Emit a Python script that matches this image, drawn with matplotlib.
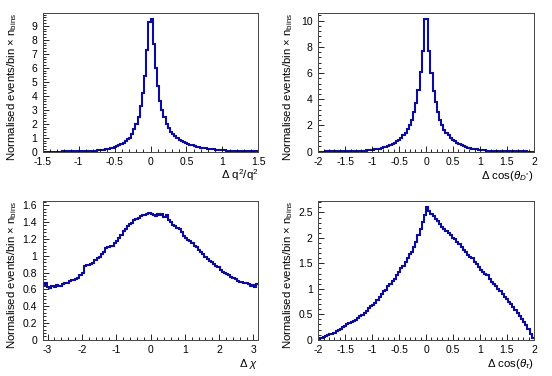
import numpy as np
import matplotlib
matplotlib.use("Agg")
import matplotlib.pyplot as plt
from matplotlib.ticker import MultipleLocator, AutoMinorLocator, FuncFormatter

plt.rcParams['font.family'] = ['Liberation Sans', 'DejaVu Sans']
plt.rcParams['mathtext.fontset'] = 'custom'
plt.rcParams['mathtext.rm'] = 'Liberation Sans'
plt.rcParams['mathtext.it'] = 'Liberation Sans:italic'
plt.rcParams['axes.unicode_minus'] = False

# histogram contents, 100 bins each
q2_vals = [0.010, 0.010, 0.011, 0.011, 0.012, 0.012, 0.013, 0.014, 0.015, 0.016,
           0.017, 0.018, 0.020, 0.021, 0.023, 0.025, 0.027, 0.029, 0.031, 0.034,
           0.045, 0.050, 0.057, 0.066, 0.077, 0.090, 0.105, 0.12, 0.14, 0.17,
           0.20, 0.24, 0.28, 0.33, 0.39, 0.46, 0.55, 0.65, 0.76, 0.88,
           1.0, 1.25, 1.6, 2.0, 2.5, 3.3, 4.2, 5.4, 7.25, 9.3,
           9.5, 7.7, 6.0, 4.7, 3.6, 3.0, 2.45, 2.0, 1.7, 1.42,
           1.25, 1.1, 0.98, 0.87, 0.78, 0.70, 0.63, 0.56, 0.50, 0.45,
           0.41, 0.37, 0.33, 0.30, 0.27, 0.245, 0.22, 0.20, 0.18, 0.16,
           0.145, 0.13, 0.115, 0.10, 0.09, 0.08, 0.07, 0.062, 0.055, 0.048,
           0.042, 0.037, 0.033, 0.030, 0.027, 0.024, 0.022, 0.020, 0.018, 0.016]

cosd_vals = [0.014, 0.015, 0.016, 0.017, 0.018, 0.019, 0.020, 0.022, 0.024, 0.026,
             0.028, 0.030, 0.033, 0.036, 0.040, 0.044, 0.049, 0.055, 0.062, 0.070,
             0.080, 0.092, 0.105, 0.12, 0.135, 0.155, 0.18, 0.21, 0.24, 0.28,
             0.33, 0.38, 0.44, 0.51, 0.59, 0.69, 0.80, 0.93, 1.08, 1.25,
             1.45, 1.70, 2.0, 2.45, 3.0, 3.7, 4.7, 6.1, 7.7, 10.15,
             10.1, 7.7, 6.0, 4.65, 3.8, 3.0, 2.4, 2.0, 1.68, 1.45,
             1.25, 1.07, 0.92, 0.80, 0.68, 0.58, 0.50, 0.43, 0.37, 0.32,
             0.28, 0.24, 0.20, 0.175, 0.15, 0.13, 0.115, 0.10, 0.09, 0.078,
             0.069, 0.061, 0.054, 0.048, 0.043, 0.039, 0.035, 0.032, 0.029, 0.027,
             0.025, 0.023, 0.021, 0.020, 0.019, 0.018, 0.017, 0.016, 0.015, 0.014]

chi_vals = [0.65, 0.67, 0.63, 0.62, 0.64, 0.63, 0.65, 0.64, 0.64, 0.66,
            0.67, 0.68, 0.70, 0.71, 0.71, 0.72, 0.74, 0.77, 0.80, 0.88,
            0.89, 0.89, 0.90, 0.91, 0.95, 0.97, 0.99, 1.02, 1.05, 1.09,
            1.10, 1.11, 1.12, 1.15, 1.18, 1.21, 1.25, 1.29, 1.32, 1.35,
            1.38, 1.39, 1.42, 1.44, 1.45, 1.47, 1.48, 1.49, 1.50, 1.51,
            1.50, 1.49, 1.47, 1.50, 1.49, 1.50, 1.46, 1.48, 1.43, 1.40,
            1.36, 1.35, 1.33, 1.32, 1.28, 1.24, 1.21, 1.19, 1.18, 1.15,
            1.12, 1.10, 1.07, 1.04, 1.02, 0.99, 0.96, 0.94, 0.93, 0.90,
            0.88, 0.86, 0.83, 0.81, 0.80, 0.78, 0.77, 0.75, 0.73, 0.72,
            0.70, 0.69, 0.69, 0.68, 0.67, 0.66, 0.64, 0.65, 0.63, 0.66]

cost_vals = [0.02, 0.04, 0.06, 0.08, 0.09, 0.11, 0.12, 0.14, 0.17, 0.19,
             0.21, 0.24, 0.27, 0.30, 0.32, 0.34, 0.37, 0.39, 0.42, 0.47,
             0.49, 0.52, 0.57, 0.62, 0.66, 0.69, 0.73, 0.78, 0.84, 0.90,
             0.95, 0.98, 1.05, 1.10, 1.15, 1.20, 1.27, 1.33, 1.40, 1.45,
             1.52, 1.60, 1.68, 1.73, 1.82, 1.92, 2.05, 2.18, 2.32, 2.45,
             2.60, 2.52, 2.46, 2.42, 2.37, 2.33, 2.28, 2.22, 2.18, 2.14,
             2.09, 2.05, 2.00, 1.97, 1.92, 1.88, 1.82, 1.77, 1.72, 1.66,
             1.63, 1.60, 1.53, 1.48, 1.42, 1.37, 1.33, 1.30, 1.27, 1.20,
             1.13, 1.10, 1.05, 1.00, 0.95, 0.90, 0.84, 0.79, 0.75, 0.70,
             0.65, 0.58, 0.53, 0.47, 0.41, 0.35, 0.28, 0.21, 0.12, 0.04]

ylabel = r"Normalised events/bin $\times$ n$_{\mathrm{bins}}$"
line_color = '#0c0c9e'

panels = [
    # (values, xrange, ylim, xmajor, ymajor, xlabel, axes rect)
    (q2_vals, (-1.5, 1.5), 9.93, 0.5, 1, r"$\Delta$ q$^{2}$/q$^{2}$",
     [0.0774, 0.5965, 0.3906, 0.3697]),
    (cosd_vals, (-2, 2), 10.6, 0.5, 2, r"$\Delta$ cos($\theta_{D^{*}}$)",
     [0.5766, 0.5965, 0.3906, 0.3697]),
    (chi_vals, (-np.pi, np.pi), 1.655, 1, 0.2, r"$\Delta$ $\chi$",
     [0.0774, 0.0965, 0.3906, 0.3697]),
    (cost_vals, (-2, 2), 2.73, 0.5, 0.5, r"$\Delta$ cos($\theta_{\tau}$)",
     [0.5766, 0.0965, 0.3906, 0.3697]),
]

fig = plt.figure(figsize=(5.52, 3.76), dpi=100)
fmt = FuncFormatter(lambda v, p: "%g" % round(v, 6))

for vals, xr, ytop, xmaj, ymaj, xlab, rect in panels:
    ax = fig.add_axes(rect)
    edges = np.linspace(xr[0], xr[1], len(vals) + 1)
    ax.stairs(vals, edges, baseline=None, color=line_color, linewidth=1.5)
    ax.set_xlim(xr)
    ax.set_ylim(0, ytop)

    ax.xaxis.set_major_locator(MultipleLocator(xmaj))
    ax.yaxis.set_major_locator(MultipleLocator(ymaj))
    ax.xaxis.set_minor_locator(AutoMinorLocator(5))
    ax.yaxis.set_minor_locator(AutoMinorLocator(5))
    ax.xaxis.set_major_formatter(fmt)
    ax.yaxis.set_major_formatter(fmt)
    ax.tick_params(which='both', direction='in', top=False, right=False,
                   width=0.6, labelsize=7.5)
    ax.tick_params(which='major', length=4)
    ax.tick_params(which='minor', length=2)
    ax.tick_params(axis='x', pad=3.5)
    ax.tick_params(axis='y', pad=4)
    for s in ax.spines.values():
        s.set_linewidth(0.7)
        s.set_color('#444444')

    ax.text(-0.142, 1.0, ylabel, transform=ax.transAxes, rotation=90,
            ha='center', va='top', fontsize=8.2)
    ax.text(1.0, -0.195, xlab, transform=ax.transAxes, ha='right',
            va='baseline', fontsize=8.2)

fig.savefig("out.png", dpi=100)
